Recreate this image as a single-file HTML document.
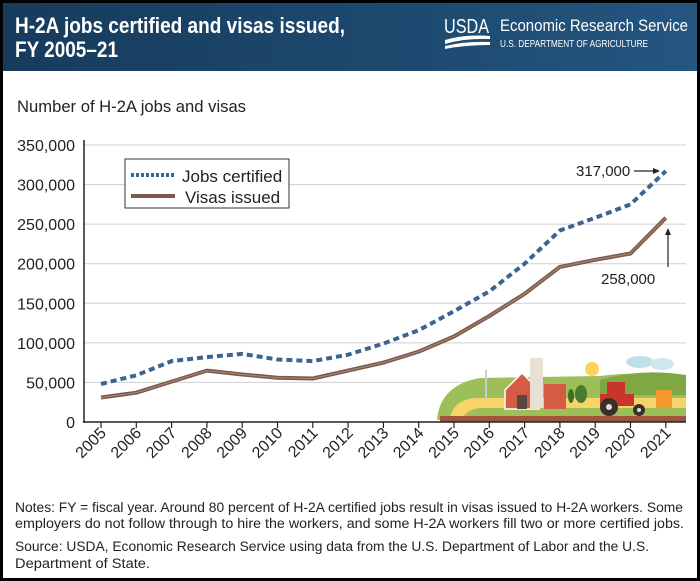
<!DOCTYPE html>
<html><head><meta charset="utf-8"><style>
html,body{margin:0;padding:0;background:#000;}
svg{display:block;font-family:"Liberation Sans",sans-serif;}
</style></head><body>
<svg width="700" height="581" viewBox="0 0 700 581" xmlns="http://www.w3.org/2000/svg">
<defs>
<linearGradient id="hg" x1="0" y1="0" x2="1" y2="0">
<stop offset="0" stop-color="#173b5c"/><stop offset="0.6" stop-color="#1d4a70"/><stop offset="1" stop-color="#245680"/>
</linearGradient>
</defs>
<rect x="0" y="0" width="700" height="581" fill="#000"/>
<rect x="3" y="3" width="694" height="575" fill="#fff"/>
<rect x="3" y="3" width="694" height="68" fill="url(#hg)"/>
<text x="15" y="33" font-size="22" font-weight="bold" fill="#fff" textLength="330" lengthAdjust="spacingAndGlyphs">H-2A jobs certified and visas issued,</text>
<text x="15" y="57" font-size="22" font-weight="bold" fill="#fff" textLength="103" lengthAdjust="spacingAndGlyphs">FY 2005–21</text>
<text x="444" y="33" font-size="20" fill="#fff" textLength="45" lengthAdjust="spacingAndGlyphs">USDA</text>
<path d="M445 40 Q465 34 490 36 L490 39 Q465 38 445 44Z M445 46 Q465 41 490 42 L490 45 Q465 45 445 49Z" fill="#fff"/>
<text x="500" y="31" font-size="17" fill="#fff" textLength="188" lengthAdjust="spacingAndGlyphs">Economic Research Service</text>
<text x="500" y="47" font-size="10" fill="#fff" textLength="148" lengthAdjust="spacingAndGlyphs">U.S. DEPARTMENT OF AGRICULTURE</text>
<text x="17" y="112" font-size="17" fill="#222" textLength="229" lengthAdjust="spacingAndGlyphs">Number of H-2A jobs and visas</text>
<g stroke="#cfcfcf" stroke-width="1">
<line x1="84" y1="145" x2="686" y2="145"/><line x1="84" y1="184.6" x2="686" y2="184.6"/>
<line x1="84" y1="224.1" x2="686" y2="224.1"/><line x1="84" y1="263.7" x2="686" y2="263.7"/>
<line x1="84" y1="303.3" x2="686" y2="303.3"/><line x1="84" y1="342.9" x2="686" y2="342.9"/>
<line x1="84" y1="382.4" x2="686" y2="382.4"/>
</g>
<g font-size="16" fill="#222" text-anchor="end">
<text x="75" y="151">350,000</text><text x="75" y="190.6">300,000</text><text x="75" y="230.1">250,000</text>
<text x="75" y="269.7">200,000</text><text x="75" y="309.3">150,000</text><text x="75" y="348.9">100,000</text>
<text x="75" y="388.4">50,000</text><text x="75" y="428">0</text>
</g>
<!-- farm -->
<g>
<path d="M437 420 Q440 385 480 378 L600 376 Q650 370 686 378 L686 420Z" fill="#9cbf5a"/>
<path d="M600 380 Q640 368 686 375 L686 395 L600 395Z" fill="#7fa843"/>
<path d="M450 420 Q452 400 475 398 L686 398 L686 420Z" fill="#f8d36a"/>
<path d="M462 420 Q465 410 480 408 L686 408 L686 420Z" fill="#9cbf5a"/>
<rect x="440" y="416" width="246" height="6" fill="#a0553e"/>
<circle cx="592" cy="369" r="7" fill="#fcd45a"/>
<ellipse cx="640" cy="362" rx="14" ry="6" fill="#bfe0e8"/><ellipse cx="662" cy="364" rx="12" ry="6" fill="#cfe6ec"/>
<line x1="486" y1="370" x2="486" y2="400" stroke="#ccc" stroke-width="2"/>
<path d="M505 390 L522 373 L539 390 L539 409 L505 409Z" fill="#d45b44" stroke="#fff" stroke-width="1.5"/>
<rect x="517" y="395" width="10" height="14" fill="#5a463f"/>
<rect x="530" y="358" width="13" height="50" fill="#e8e0d4"/>
<rect x="544" y="384" width="22" height="25" fill="#d45b44"/>
<ellipse cx="581" cy="394" rx="6" ry="9" fill="#4a7a30"/><ellipse cx="571" cy="396" rx="3" ry="7" fill="#3f6d2a"/>
<rect x="607" y="382" width="18" height="16" fill="#c8352a"/><rect x="600" y="394" width="34" height="12" fill="#c8352a"/>
<circle cx="609" cy="407" r="9" fill="#3a2f2c"/><circle cx="609" cy="407" r="3" fill="#ddd"/>
<circle cx="639" cy="410" r="6" fill="#3a2f2c"/><circle cx="639" cy="410" r="2" fill="#ddd"/>
<rect x="656" y="390" width="16" height="18" fill="#f39a2b"/>
</g>
<line x1="84" y1="140" x2="84" y2="423" stroke="#222" stroke-width="1.5"/>
<line x1="83" y1="422" x2="686" y2="422" stroke="#222" stroke-width="1.5"/>
<g stroke="#222" stroke-width="1.2">
<line x1="101" y1="422" x2="101" y2="428"/><line x1="136.3" y1="422" x2="136.3" y2="428"/><line x1="171.6" y1="422" x2="171.6" y2="428"/><line x1="206.9" y1="422" x2="206.9" y2="428"/><line x1="242.2" y1="422" x2="242.2" y2="428"/><line x1="277.5" y1="422" x2="277.5" y2="428"/><line x1="312.8" y1="422" x2="312.8" y2="428"/><line x1="348.1" y1="422" x2="348.1" y2="428"/><line x1="383.4" y1="422" x2="383.4" y2="428"/><line x1="418.7" y1="422" x2="418.7" y2="428"/><line x1="454" y1="422" x2="454" y2="428"/><line x1="489.3" y1="422" x2="489.3" y2="428"/><line x1="524.6" y1="422" x2="524.6" y2="428"/><line x1="559.9" y1="422" x2="559.9" y2="428"/><line x1="595.2" y1="422" x2="595.2" y2="428"/><line x1="630.5" y1="422" x2="630.5" y2="428"/><line x1="665.8" y1="422" x2="665.8" y2="428"/>
</g>
<g font-size="16" fill="#222" text-anchor="end">
<text transform="translate(107,434) rotate(-45)">2005</text><text transform="translate(142.3,434) rotate(-45)">2006</text><text transform="translate(177.6,434) rotate(-45)">2007</text><text transform="translate(212.9,434) rotate(-45)">2008</text><text transform="translate(248.2,434) rotate(-45)">2009</text><text transform="translate(283.5,434) rotate(-45)">2010</text><text transform="translate(318.8,434) rotate(-45)">2011</text><text transform="translate(354.1,434) rotate(-45)">2012</text><text transform="translate(389.4,434) rotate(-45)">2013</text><text transform="translate(424.7,434) rotate(-45)">2014</text><text transform="translate(460,434) rotate(-45)">2015</text><text transform="translate(495.3,434) rotate(-45)">2016</text><text transform="translate(530.6,434) rotate(-45)">2017</text><text transform="translate(565.9,434) rotate(-45)">2018</text><text transform="translate(601.2,434) rotate(-45)">2019</text><text transform="translate(636.5,434) rotate(-45)">2020</text><text transform="translate(671.8,434) rotate(-45)">2021</text>
</g>
<polyline fill="none" stroke="#7a5a48" stroke-width="4" stroke-linejoin="round" points="101,397.5 136.3,392.7 171.6,381.6 206.9,370.6 242.2,374.5 277.5,377.7 312.8,378.5 348.1,370.6 383.4,362.6 418.7,351.6 454,336.5 489.3,316 524.6,293.8 559.9,266.9 595.2,259.8 630.5,253.5 665.8,217.8"/>
<polyline fill="none" stroke="#a88a78" stroke-width="1" points="101,397.5 136.3,392.7 171.6,381.6 206.9,370.6 242.2,374.5 277.5,377.7 312.8,378.5 348.1,370.6 383.4,362.6 418.7,351.6 454,336.5 489.3,316 524.6,293.8 559.9,266.9 595.2,259.8 630.5,253.5 665.8,217.8"/>
<polyline fill="none" stroke="#3b6491" stroke-width="4" stroke-dasharray="6,4" points="101,384 136.3,375.3 171.6,361.1 206.9,357.1 242.2,353.9 277.5,359.5 312.8,361.1 348.1,354.7 383.4,343.6 418.7,330.2 454,311.2 489.3,291.4 524.6,263.7 559.9,230.5 595.2,217.8 630.5,204.4 665.8,171.1"/>
<rect x="125" y="159" width="164" height="49" fill="#fff" stroke="#333" stroke-width="1"/>
<line x1="131" y1="175" x2="175" y2="175" stroke="#3b6491" stroke-width="4" stroke-dasharray="3,2"/>
<line x1="131" y1="196" x2="175" y2="196" stroke="#7a5a48" stroke-width="4"/>
<text x="182" y="182" font-size="17" fill="#222">Jobs certified</text>
<text x="185" y="203" font-size="17" fill="#222">Visas issued</text>
<text x="576" y="176" font-size="15" fill="#222">317,000</text>
<line x1="634" y1="171" x2="655" y2="171" stroke="#222" stroke-width="1.2"/>
<path d="M660 171 L653 168 L653 174Z" fill="#222"/>
<text x="601" y="284" font-size="15" fill="#222">258,000</text>
<line x1="668" y1="267" x2="668" y2="234" stroke="#222" stroke-width="1.2"/>
<path d="M668 228 L665 235 L671 235Z" fill="#222"/>
<g font-size="13.5" fill="#222">
<text x="15" y="512" textLength="668" lengthAdjust="spacingAndGlyphs">Notes: FY = fiscal year. Around 80 percent of H-2A certified jobs result in visas issued to H-2A workers. Some</text>
<text x="15" y="528" textLength="669" lengthAdjust="spacingAndGlyphs">employers do not follow through to hire the workers, and some H-2A workers fill two or more certified jobs.</text>
<text x="15" y="551" textLength="634" lengthAdjust="spacingAndGlyphs">Source: USDA, Economic Research Service using data from the U.S. Department of Labor and the U.S.</text>
<text x="15" y="568" textLength="135" lengthAdjust="spacingAndGlyphs">Department of State.</text>
</g>
</svg>
</body></html>
